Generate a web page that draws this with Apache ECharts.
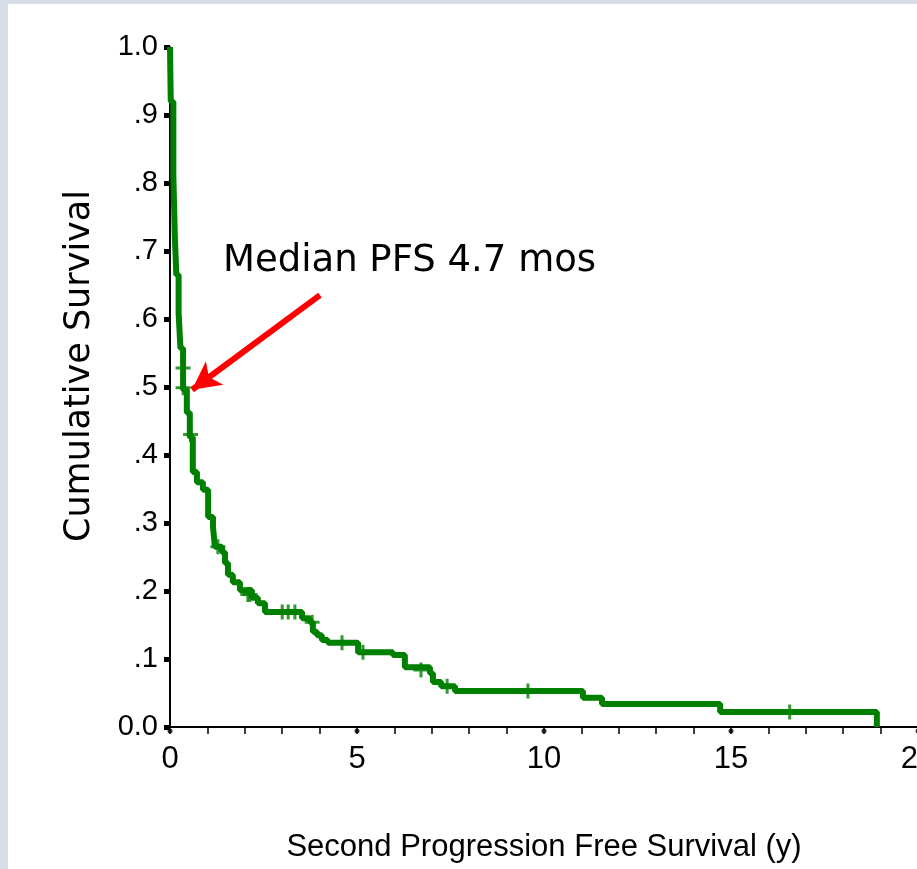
<!DOCTYPE html>
<html>
<head>
<meta charset="utf-8">
<script src="https://cdn.jsdelivr.net/npm/echarts@6/dist/echarts.min.js"></script>
<style>
  html, body { margin: 0; padding: 0; background: #d6dde6; }
  #chart { position: absolute; left: 8px; top: 4px; width: 909px; height: 865px; background: #ffffff; }
</style>
</head>
<body>
<div id="chart"></div>
<script>
// Kaplan-Meier step points: time (years) and survival after each event
const times = [0, 0.02, 0.09, 0.13, 0.17, 0.23, 0.28, 0.35, 0.45, 0.53, 0.61, 0.72, 0.88, 1.02, 1.15, 1.20, 1.39, 1.47, 1.55, 1.68, 1.87, 2.19, 2.35, 2.54, 3.53, 3.74, 3.82, 3.93, 4.06, 4.22, 5.03, 5.96, 6.28, 6.95, 7.03, 7.25, 7.62, 11.04, 11.55, 14.71, 18.9];
const survival = [1.0, 0.92, 0.81, 0.72, 0.665, 0.609, 0.557, 0.496, 0.462, 0.426, 0.375, 0.36, 0.349, 0.309, 0.294, 0.265, 0.257, 0.241, 0.224, 0.213, 0.201, 0.19, 0.182, 0.169, 0.16, 0.154, 0.14, 0.135, 0.128, 0.124, 0.110, 0.106, 0.088, 0.079, 0.066, 0.060, 0.053, 0.043, 0.034, 0.022, 0.0];

// censored cases
const censorTimes = [0.35, 0.35, 0.55, 1.28, 2.08, 2.14, 3.0, 3.16, 3.34, 3.8, 4.6, 5.16, 6.71, 7.41, 9.57, 16.57];
const censorSurv = [0.528, 0.499, 0.43, 0.265, 0.195, 0.195, 0.169, 0.169, 0.169, 0.154, 0.124, 0.11, 0.084, 0.06, 0.053, 0.022];

// major x ticks (get a dot under the axis)
const xMajor = [0, 5, 10, 15, 20];

// annotation arrow (data coords)
const arrowFrom = [4.01, 0.635];
const arrowTo = [0.59, 0.496];
const noteText = 'Median PFS 4.7 mos';

const green = '#008000';
const sans = '"Liberation Sans", Arial, sans-serif';

let myChart = echarts.init(document.getElementById('chart'));

let option = {
    animation: false,
    grid: { left: 162, top: 43, width: 748, height: 680, outerBoundsMode: 'none', containLabel: false },
    xAxis: {
        type: 'value',
        min: 0, max: 20, interval: 5,
        axisLine: { onZero: false, lineStyle: { color: '#000', width: 2 } },
        axisTick: { show: true, length: 7, lineStyle: { color: '#000', width: 1.5 } },
        minorTick: { show: true, splitNumber: 5, length: 7, lineStyle: { color: '#000', width: 1.5 } },
        splitLine: { show: false },
        axisLabel: { color: '#000', fontFamily: sans, fontSize: 31, margin: 17, hideOverlap: false },
        name: 'Second Progression Free Survival (y)',
        nameLocation: 'middle',
        nameGap: 105,
        nameTextStyle: { color: '#000', fontFamily: sans, fontSize: 31 }
    },
    yAxis: {
        type: 'value',
        min: 0, max: 1, interval: 0.1,
        axisLine: { show: true, lineStyle: { color: '#000', width: 2 } },
        axisTick: { show: true, length: 6, lineStyle: { color: '#000', width: 5 } },
        splitLine: { show: false },
        axisLabel: {
            color: '#000', fontFamily: sans, fontSize: 29, margin: 12,
            formatter: function (v) {
                if (v === 0) return '0.0';
                if (v >= 1) return '1.0';
                return '.' + Math.round(v * 10);
            }
        }
    },
    graphic: [
        {
            type: 'text', left: 215, top: 239,
            style: { text: noteText, fill: '#000', font: '37px "DejaVu Sans", sans-serif' }
        },
        {
            type: 'text', x: 72, y: 362, rotation: Math.PI / 2,
            style: {
                text: 'Cumulative Survival', fill: '#000',
                font: '35px "DejaVu Sans", sans-serif',
                align: 'center', verticalAlign: 'middle'
            }
        }
    ],
    series: [
        {
            name: 'Survival',
            type: 'line',
            step: 'end',
            showSymbol: false,
            clip: false,
            lineStyle: { color: green, width: 6 },
            itemStyle: { color: green },
            data: times.map((t, i) => [t, survival[i]]),
            markLine: {
                silent: true,
                symbol: ['none', 'arrow'],
                symbolSize: [22, 28],
                label: { show: false },
                lineStyle: { color: '#ff0000', width: 6, type: 'solid' },
                data: [[{ coord: arrowFrom }, { coord: arrowTo }]]
            }
        },
        {
            name: 'Censored',
            type: 'scatter',
            clip: false,
            symbol: 'path://M6,0h3v6h6v3h-6v6h-3v-6h-6v-3h6z',
            symbolSize: 15,
            itemStyle: { color: green },
            data: censorTimes.map((t, i) => [t, censorSurv[i]])
        },
        {
            name: 'ticks',
            type: 'scatter',
            clip: false,
            symbol: 'circle',
            symbolSize: 5,
            symbolOffset: [0, 4],
            itemStyle: { color: '#000' },
            data: xMajor.map(v => [v, 0])
        }
    ]
};
myChart.setOption(option);
</script>
</body>
</html>
